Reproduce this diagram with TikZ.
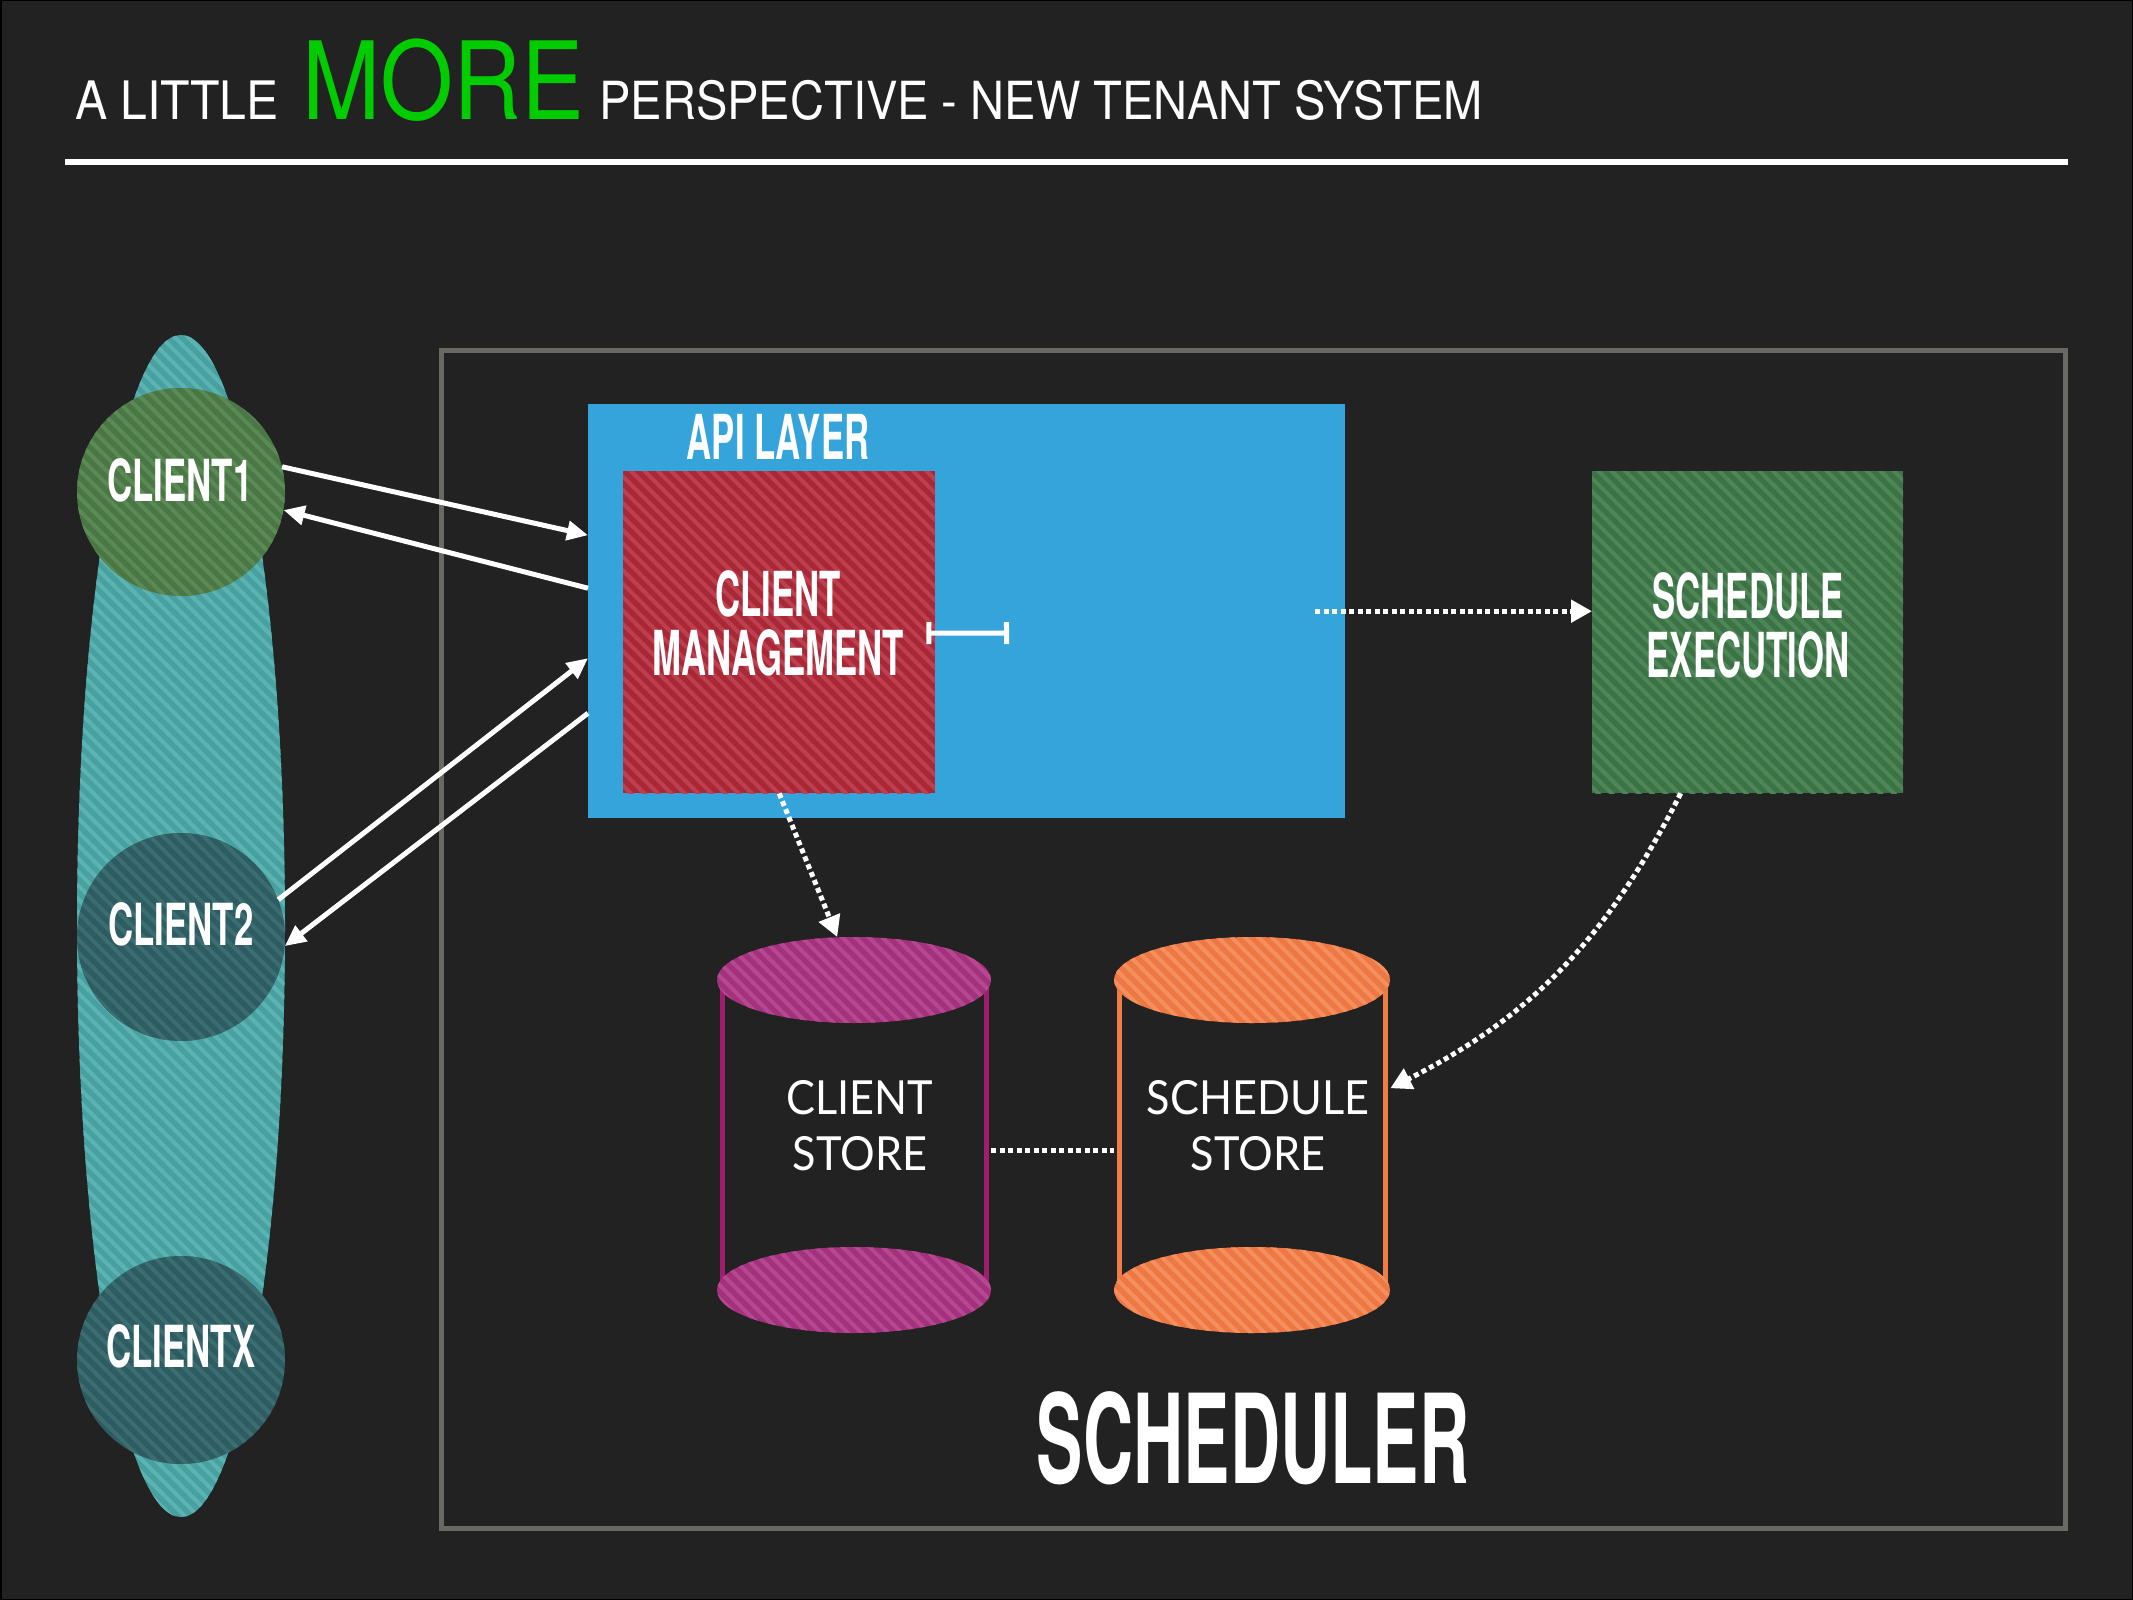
\documentclass[tikz,border=0pt]{standalone}
\usepackage{fontspec}
\usetikzlibrary{arrows.meta,shapes.geometric,patterns.meta,calc}
\setmainfont{TeX Gyre Heros}
\newfontfamily\titlefont{TeX Gyre Heros}[FakeStretch=0.91]
\newfontfamily\titlefontb{TeX Gyre Heros}[FakeStretch=0.897]
\newfontfamily\morefont{TeX Gyre Heros}[FakeStretch=0.87]
\newfontfamily\condfont{TeX Gyre Heros}[FakeStretch=0.56]
\newfontfamily\clientfont{TeX Gyre Heros}[FakeStretch=0.6]
\newfontfamily\storefont{Lato}[FakeStretch=0.92]
\definecolor{bg}{HTML}{222222}
\definecolor{moregreen}{HTML}{00CC00}
\definecolor{framegray}{HTML}{6A6862}
\definecolor{apiblue}{HTML}{35A4DB}
\definecolor{cmred}{HTML}{A92838}
\definecolor{cmredl}{HTML}{BE404F}
\definecolor{exgreen}{HTML}{3D7246}
\definecolor{exgreenl}{HTML}{4E8757}
\definecolor{grpteal}{HTML}{48A0A0}
\definecolor{grpteall}{HTML}{5BB4B2}
\definecolor{cagreen}{HTML}{4A7745}
\definecolor{cagreenl}{HTML}{5B8A55}
\definecolor{cbteal}{HTML}{2D5C62}
\definecolor{cbteall}{HTML}{3B6D71}
\definecolor{csmag}{HTML}{A3317D}
\definecolor{csmagl}{HTML}{B5488F}
\definecolor{csline}{HTML}{A01E70}
\definecolor{ssor}{HTML}{EE7843}
\definecolor{ssorl}{HTML}{F58F5E}
\definecolor{ssline}{HTML}{F07C46}
\tikzset{
  striped/.style 2 args={fill=#1, postaction={pattern={Lines[angle=-45,distance=9.5pt,line width=4pt]}, pattern color=#2}},
  lbl/.style={text=white, inner sep=0pt, align=center, font=\condfont\bfseries\fontsize{58}{58}\selectfont},
  clbl/.style={text=white, inner sep=0pt, align=center, font=\clientfont\bfseries\fontsize{58}{58}\selectfont},
  storetxt/.style={text=white, inner sep=0pt, align=center, font=\storefont\fontsize{47}{56}\selectfont},
  titletxt/.style={text=white, inner sep=0pt, anchor=base west},
  warrow/.style={white, line width=5pt, -{Triangle[length=21pt,width=19pt]}},
  dotline/.style={white, line width=5pt, dash pattern=on 5pt off 3.5pt},
  dotarrow/.style={dotline, -{Triangle[length=21pt,width=22pt]}},
}
\begin{document}
\begin{tikzpicture}[x=1pt,y=-1pt]
\useasboundingbox (0,0) rectangle (2133,1600);
\fill[bg] (0,0) rectangle (2133,1600);
\draw[black, line width=3pt] (0,0) rectangle (2133,1600);

% title
\node[titletxt, font=\titlefont\fontsize{53}{53}\selectfont] (t1) at (75,120) {A LITTLE};
\node[titletxt, text=moregreen, font=\morefont\fontsize{108}{108}\selectfont] (t2) at (302,120) {MORE};
\node[titletxt, font=\titlefontb\fontsize{52.5}{53}\selectfont] (t3) at (599,120) {PERSPECTIVE - NEW TENANT SYSTEM};
\draw[white, line width=6pt] (65,162) -- (2068,162);

% scheduler frame
\node[draw=framegray, line width=5pt, inner sep=0pt, minimum width=1624pt, minimum height=1178pt, anchor=north west] (frame) at (439,348) {};
\node[lbl, font=\condfont\bfseries\fontsize{124}{124}\selectfont] (schedlbl) at (1253,1438) {SCHEDULER};

% clients group
\node[ellipse, inner sep=0pt, minimum width=208pt, minimum height=1182pt, striped={grpteal}{grpteall}] (grp) at (181,926) {};
\node[circle, inner sep=0pt, minimum size=208pt, striped={cagreen}{cagreenl}] (c1) at (181,492) {};
\node[circle, inner sep=0pt, minimum size=208pt, striped={cbteal}{cbteall}] (c2) at (181,937) {};
\node[circle, inner sep=0pt, minimum size=208pt, striped={cbteal}{cbteall}] (cx) at (181,1360) {};
\node[clbl] (c1t) at (180,480) {CLIENT1};
\node[clbl] (c2t) at (181,924) {CLIENT2};
\node[clbl] (cxt) at (181,1346) {CLIENTX};

% api layer
\node[fill=apiblue, inner sep=0pt, minimum width=757pt, minimum height=414pt, anchor=north west] (api) at (588,404) {};
\node[lbl, font=\condfont\bfseries\fontsize{62}{62}\selectfont] (apit) at (778,437) {API LAYER};
\node[inner sep=0pt, minimum width=312pt, minimum height=322pt, anchor=north west, striped={cmred}{cmredl}] (cm) at (623,471) {};
\node[lbl, font=\condfont\bfseries\fontsize{62}{59}\selectfont] (cmt) at (778,623) {CLIENT\\MANAGEMENT};

% schedule execution
\node[inner sep=0pt, minimum width=311pt, minimum height=322pt, anchor=north west, striped={exgreen}{exgreenl}] (sched) at (1592,471) {};
\node[lbl, font=\condfont\bfseries\fontsize{62}{59}\selectfont] (schedt) at (1748,625) {SCHEDULE\\EXECUTION};

% stores
\node[inner sep=0pt, minimum width=274pt, minimum height=396pt, anchor=north west] (cs) at (717,937) {};
\node[inner sep=0pt, minimum width=276pt, minimum height=396pt, anchor=north west] (ss) at (1114,937) {};
\draw[csline, line width=5pt] (722,980) -- (722,1290) (986,980) -- (986,1290);
\path[striped={csmag}{csmagl}] (854,980) ellipse [x radius=137pt, y radius=43pt];
\path[striped={csmag}{csmagl}] (854,1290) ellipse [x radius=137pt, y radius=43pt];
\draw[ssline, line width=5pt] (1119,980) -- (1119,1290) (1385,980) -- (1385,1290);
\path[striped={ssor}{ssorl}] (1252,980) ellipse [x radius=138pt, y radius=43pt];
\path[striped={ssor}{ssorl}] (1252,1290) ellipse [x radius=138pt, y radius=43pt];
\node[storetxt] (cst) at (860,1126) {CLIENT\\STORE};
\node[storetxt] (sst) at (1258,1126) {SCHEDULE\\STORE};

% connectors
\draw[warrow] (c1.14) -- ([yshift=76pt]api.west);
\draw[warrow] ([yshift=23pt]api.west) -- (c1.-10);
\draw[warrow] (c2.21) -- ([yshift=-47pt]api.west);
\draw[warrow] ([yshift=-102pt]api.west) -- (c2.-5);

\coordinate (barend) at (1009,633);
\draw[white, line width=5pt, {Bar[width=22pt]}-{Bar[width=22pt]}] ([xshift=-9pt,yshift=-1pt]cm.east) -- (barend);

\draw[dotarrow] ([xshift=-30pt]api.east) -- (api.east -| sched.west);
\draw[dotarrow] (cm.south) -- ([xshift=-17pt]cs.north);
\draw[dotarrow] ([xshift=-67pt]sched.south) to[out=-117,in=27] ([yshift=47pt]ss.east);
\draw[dotline] ([yshift=-15pt]cs.east) -- ([yshift=-15pt]ss.west);
\end{tikzpicture}
\end{document}
